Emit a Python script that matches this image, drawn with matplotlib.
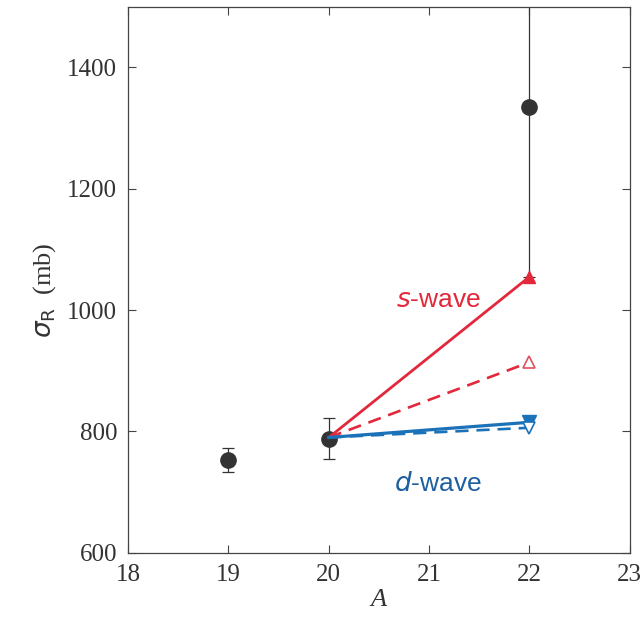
import matplotlib.pyplot as plt

# measured cross sections
A_data = [19, 20, 22]
sigma_data = [753, 788, 1335]
sigma_err = [20, 34, 280]

# model predictions from A=20 to A=22
A_model = [20, 22]
s_full = [790, 1055]
s_dash = [790, 914]
d_full = [790, 815]
d_dash = [790, 806]

red = '#e2283a'
pink = '#e05060'
blue = '#1b72b8'
dark = '#333333'

plt.rcParams['mathtext.fontset'] = 'dejavusans'

fig = plt.figure(figsize=(6.44, 6.21), dpi=100)
ax = fig.add_axes([0.199, 0.11, 0.779, 0.879])

ax.errorbar(A_data, sigma_data, yerr=sigma_err, fmt='o', color=dark,
            ms=11, elinewidth=0.9, capsize=4, capthick=0.9, zorder=2)

ax.plot(A_model, s_full, '-', color=red, lw=2.0, zorder=3)
ax.plot(A_model[-1], s_full[-1], '^', color=red, ms=9, zorder=4)
ax.plot(A_model, s_dash, '--', color=red, lw=1.9, dashes=(5, 3), zorder=3)
ax.plot(A_model[-1], s_dash[-1], '^', color=pink, mfc='white', mew=1.2, ms=9, zorder=4)
ax.plot(A_model, d_full, '-', color=blue, lw=2.3, zorder=3)
ax.plot(A_model[-1], d_full[-1], 'v', color=blue, ms=10, zorder=4)
ax.plot(A_model, d_dash, '--', color=blue, lw=1.9, dashes=(5, 3), zorder=3)
ax.plot(A_model[-1], d_dash[-1], 'v', color=blue, mfc='white', mew=1.2, ms=9, zorder=4)

ax.text(21.09, 1016, r'$\mathit{s}$-wave', color=red, fontsize=19,
        family='Liberation Sans', ha='center', va='center')
ax.text(21.09, 714, r'$\mathit{d}$-wave', color='#1e5f9e',
        fontsize=19, family='Liberation Sans', ha='center', va='center')

ax.set_xlim(18, 23)
ax.set_ylim(600, 1500)
ax.set_xticks([18, 19, 20, 21, 22, 23])
ax.set_yticks([600, 800, 1000, 1200, 1400])
ax.tick_params(direction='in', top=True, right=True, length=6, width=0.8,
               labelsize=18, colors='#444444', labelcolor='#333333')
ax.tick_params(axis='x', pad=8)
ax.tick_params(axis='y', pad=8)
for lab in ax.get_xticklabels() + ax.get_yticklabels():
    lab.set_family('Liberation Serif')
for sp in ax.spines.values():
    sp.set_color('#444444')
    sp.set_linewidth(0.9)

ax.set_xlabel('A', family='Liberation Serif', style='italic', fontsize=19,
              color='#333333', labelpad=2)
ax.set_ylabel(r'$\sigma_{\mathrm{R}}$  (mb)', family='Liberation Serif', fontsize=19,
              color='#333333')
ax.yaxis.set_label_coords(-0.14, 0.48)

plt.savefig('out.png', dpi=100)
